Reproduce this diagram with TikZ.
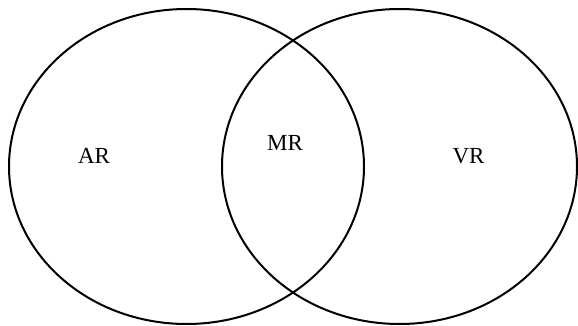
\documentclass[tikz,border=0pt]{standalone}
\usepackage{fontspec}
\setmainfont{Liberation Serif}
\usetikzlibrary{shapes.geometric}

\begin{document}
\begin{tikzpicture}[
  x=1pt, y=-1pt,
  set/.style={draw, ellipse, line width=2pt, minimum width=355pt, minimum height=315pt, inner sep=0pt},
  lbl/.style={font=\fontsize{23}{27}\selectfont, inner sep=0pt},
]
\useasboundingbox (0,0) rectangle (578,326);

\node[set] (ar) at (186.5,166.5) {};
\node[set] (vr) at (399.5,166.5) {};

\node[lbl] (arlbl) at (94,156) {AR};
\node[lbl] (mrlbl) at (285,143) {MR};
\node[lbl] (vrlbl) at (468.5,156) {VR};

\end{tikzpicture}
\end{document}
